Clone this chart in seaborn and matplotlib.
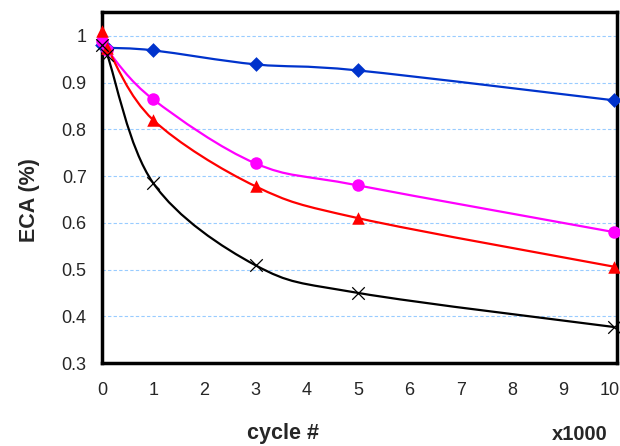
import matplotlib
matplotlib.use("Agg")
import matplotlib.pyplot as plt
import matplotlib.transforms as mtransforms
import numpy as np
import pandas as pd
import seaborn as sns
from matplotlib.path import Path
from matplotlib.patches import PathPatch

# cycles, in thousands
cycles = [0, 0.1, 1, 3, 5, 10]

eca_blue = [0.98, 0.975, 0.969, 0.939, 0.926, 0.862]
eca_magenta = [0.99, 0.97, 0.864, 0.727, 0.680, 0.580]
eca_red = [1.01, 0.975, 0.820, 0.678, 0.610, 0.506]
eca_black = [0.98, 0.96, 0.685, 0.509, 0.450, 0.377]

y_ticks = [0.3, 0.4, 0.5, 0.6, 0.7, 0.8, 0.9, 1.0]
y_tick_labels = ["0.3", "0.4", "0.5", "0.6", "0.7", "0.8", "0.9", "1"]
x_ticks = list(range(0, 11))

SERIES = [
    ("blue", eca_blue, "#0033CC", "D", 7.5),
    ("magenta", eca_magenta, "#FF00FF", "o", 9),
    ("red", eca_red, "#FF0000", "^", 9),
    ("black", eca_black, "#000000", "x", 9),
]


def smooth_path(xs, ys):
    # Excel-like smoothed line: cubic bezier through every point
    pts = np.column_stack([xs, ys])
    n = len(pts)
    verts = [pts[0]]
    codes = [Path.MOVETO]
    for i in range(n - 1):
        p0 = pts[i - 1] if i > 0 else pts[i]
        p1 = pts[i]
        p2 = pts[i + 1]
        p3 = pts[i + 2] if i + 2 < n else pts[i + 1]
        c1 = p1 + (p2 - p0) / 6.0
        c2 = p2 - (p3 - p1) / 6.0
        verts += [c1, c2, p2]
        codes += [Path.CURVE4] * 3
    return Path(verts, codes)


rows = []
for name, vals, _, _, _ in SERIES:
    for c, v in zip(cycles, vals):
        rows.append({"series": name, "cycle": c, "eca": v})
df = pd.DataFrame(rows)

sns.set_style("white")
plt.rcParams["font.family"] = ["Liberation Sans", "DejaVu Sans"]

fig = plt.figure(figsize=(6.2, 4.46), dpi=100)
ax = fig.add_axes([0.1645, 0.186, 0.8305, 0.787])

for name, vals, colour, marker, size in SERIES:
    ax.add_patch(PathPatch(smooth_path(cycles, vals), facecolor="none",
                           edgecolor=colour, lw=1.6, zorder=3))
    sub = df[df["series"] == name]
    sns.scatterplot(data=sub, x="cycle", y="eca", ax=ax, color=colour,
                    marker=marker, s=size ** 2,
                    linewidth=0.9 if marker == "x" else 0,
                    edgecolor=colour, zorder=4, legend=False, clip_on=False)

ax.set_xlim(0, 10.05)
ax.set_ylim(0.3, 1.051)
ax.set_xticks(x_ticks)
ax.set_yticks(y_ticks)
ax.set_yticklabels(y_tick_labels)
ax.tick_params(axis="both", length=0, labelsize=13)
ax.tick_params(axis="x", pad=14)
ax.tick_params(axis="y", pad=11)
ax.set_xlabel("")
ax.set_ylabel("")

# nudge the last x label so it stays inside the figure
last = ax.get_xticklabels()[-1]
last.set_transform(last.get_transform() +
                   mtransforms.ScaledTranslation(-5 / 100, 0, fig.dpi_scale_trans))

ax.grid(axis="y", color="#99CCFF", linestyle=(0, (3, 2)), lw=0.8)
ax.grid(axis="x", visible=False)
ax.set_axisbelow(True)
for sp in ax.spines.values():
    sp.set_color("black")
    sp.set_linewidth(2.5)

fig.text(283 / 620, 1 - 434 / 446, "cycle #", ha="center", va="center",
         fontsize=15.5, fontweight="bold")
fig.text(580 / 620, 1 - 434 / 446, "x1000", ha="center", va="center",
         fontsize=14.5, fontweight="bold")
fig.text(30 / 620, 1 - 200 / 446, "ECA (%)", ha="center", va="center",
         rotation=90, fontsize=15.5, fontweight="bold")

fig.savefig("out.png", dpi=100)
